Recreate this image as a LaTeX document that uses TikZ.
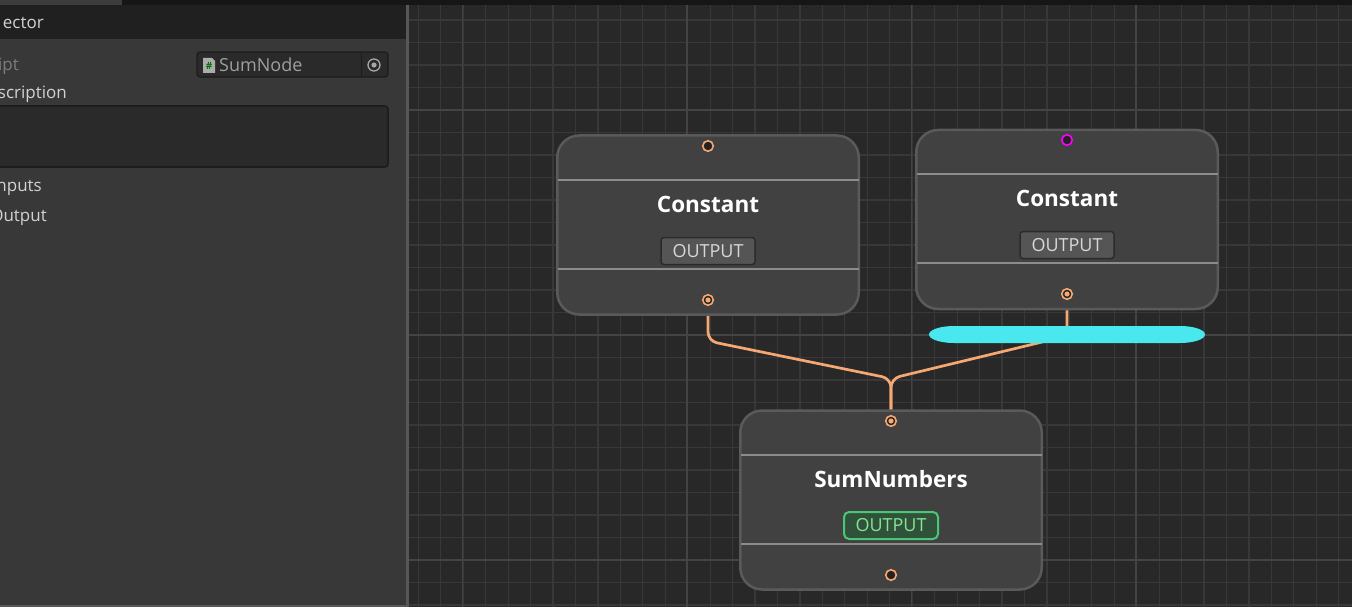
\documentclass[tikz,border=0pt]{standalone}
\usepackage{fontspec}
\setmainfont{Open Sans}
\usepackage{tikz}
\usetikzlibrary{positioning}
\definecolor{canvasbg}{HTML}{282828}
\definecolor{gridminor}{HTML}{383838}
\definecolor{gridmajor}{HTML}{444444}
\definecolor{panelbg}{HTML}{383838}
\definecolor{headbg}{HTML}{202020}
\definecolor{topbar}{HTML}{161616}
\definecolor{tabbg}{HTML}{3C3C3C}
\definecolor{panelline}{HTML}{575757}
\definecolor{paneltxt}{HTML}{D2D2D2}
\definecolor{dimtxt}{HTML}{7C7C7C}
\definecolor{fieldbg}{HTML}{2A2A2A}
\definecolor{fieldedge}{HTML}{1C1C1C}
\definecolor{nodefill}{HTML}{414141}
\definecolor{nodeedge}{HTML}{5A5A5A}
\definecolor{sepgray}{HTML}{8C8C8C}
\definecolor{btnfill}{HTML}{555555}
\definecolor{btnedge}{HTML}{2B2B2B}
\definecolor{btntxt}{HTML}{D8D8D8}
\definecolor{okfill}{HTML}{30523A}
\definecolor{okedge}{HTML}{48C874}
\definecolor{oktxt}{HTML}{86E595}
\definecolor{wireorange}{HTML}{F6A872}
\definecolor{portfill}{HTML}{222222}
\definecolor{portmagenta}{HTML}{FF00FF}
\definecolor{pillcyan}{HTML}{48E8EE}
\pgfdeclarelayer{canvas}
\pgfdeclarelayer{wires}
\pgfsetlayers{canvas,wires,main}

\begin{document}
\begin{tikzpicture}[x=1pt, y=-1pt,
  nodebox/.style={draw=nodeedge, line width=2.5pt, fill=nodefill, rounded corners=22pt,
    minimum width=301.5pt, minimum height=179pt, inner sep=0pt},
  sepline/.style={draw=sepgray, line width=1.8pt},
  title/.style={text=white, inner sep=0pt, font=\fontsize{22.5}{24}\selectfont\bfseries},
  outbtn/.style={draw=btnedge, fill=btnfill, line width=1.5pt, rounded corners=3pt,
    minimum width=94pt, minimum height=27pt, inner sep=0pt, text=btntxt,
    font=\fontsize{18}{20}\selectfont},
  okbtn/.style={outbtn, draw=okedge, fill=okfill, text=oktxt, line width=2pt, rounded corners=5pt},
  port/.style={circle, draw=wireorange, fill=portfill, line width=1.6pt, minimum size=10.5pt, inner sep=0pt},
  linked/.style={port, path picture={\fill[wireorange] (path picture bounding box.center) circle (2.6pt);}},
  link/.style={draw=wireorange, line width=2.7pt, rounded corners=9pt},
  paneltext/.style={text=paneltxt, inner sep=0pt, anchor=base east, font=\fontsize{17}{20}\selectfont}]
\useasboundingbox (0,0) rectangle (1352,607);
\clip (0,0) rectangle (1352,607);

%%%%% Canvas and grid %%%%%
\begin{pgfonlayer}{canvas}
\fill[canvasbg] (408,0) rectangle (1352,607);
\foreach \i in {0,...,41}{
\draw[gridminor, line width=1.2pt] ({418.3+\i*22.45},5)--({418.3+\i*22.45},607);
}
\foreach \i in {0,...,26}{
\draw[gridminor, line width=1.2pt] (408,{20+\i*22.5})--(1352,{20+\i*22.5});
}
\foreach \i in {0,...,3}{
\draw[gridmajor, line width=1.5pt] ({462.7+\i*224.5},5)--({462.7+\i*224.5},607);
}
\foreach \j in {110,335,560}{
\draw[gridmajor, line width=1.8pt] (408,\j)--(1352,\j);
}
\end{pgfonlayer}

%%%%% Inspector panel %%%%%
\fill[topbar] (0,0) rectangle (1352,5);
\fill[tabbg] (0,0) rectangle (122,5);
\fill[panelbg] (0,5) rectangle (406,607);
\fill[headbg] (0,5) rectangle (406,39);
\fill[panelline] (406,5) rectangle (408.5,607);
\fill[panelline] (0,605) rectangle (406,607);
\node[paneltext] (inspector) at (44,29) {ector};
\node[paneltext, text=dimtxt] (script) at (19,71) {ipt};
\draw[fill=fieldbg, draw=fieldedge, line width=1.2pt, rounded corners=3pt] (197,52) rectangle (388,77);
\draw[fieldedge, line width=1pt] (361,53)--(361,76);
\fill[gray!65] (203,58)--(212,58)--(215,61)--(215,73)--(203,73)--cycle;
\node[text=green!45!black, inner sep=0pt, font=\fontsize{10}{10}\selectfont\bfseries] (hash) at (209,66) {\#};
\node[text=gray!75, inner sep=0pt, anchor=base west, font=\fontsize{18}{20}\selectfont] (sumnode) at (219,72) {SumNode};
\draw[gray!70, line width=1.3pt] (374,65) circle (6);
\fill[gray!70] (374,65) circle (2.6);
\node[paneltext] (description) at (67,99) {scription};
\draw[fill=fieldbg, draw=fieldedge, line width=1.5pt, rounded corners=3pt] (-5,106) rectangle (388,167);
\node[paneltext] (inputs) at (42,191) {nputs};
\node[paneltext] (output) at (47,221) {Output};

%%%%% Graph nodes %%%%%
\node[nodebox] (const1) at (708,225) {};
\draw[sepline] (557.5,180)--(858.5,180);
\draw[sepline] (557.5,269)--(858.5,269);
\node[title] (const1title) at (708,204) {Constant};
\node[outbtn] (const1btn) at (708,251) {OUTPUT};
\node[port] (const1in) at (708,146) {};
\node[linked] (const1out) at (708,300) {};

\node[nodebox] (const2) at (1067,219.5) {};
\draw[sepline] (916.5,174)--(1217.5,174);
\draw[sepline] (916.5,263)--(1217.5,263);
\node[title] (const2title) at (1067,198) {Constant};
\node[outbtn] (const2btn) at (1067,245) {OUTPUT};
\node[port, draw=portmagenta] (const2in) at (1067,140) {};
\node[linked] (const2out) at (1067,294) {};

\node[nodebox] (sum) at (891,500) {};
\draw[sepline] (740.5,455)--(1041.5,455);
\draw[sepline] (740.5,544)--(1041.5,544);
\node[title] (sumtitle) at (891,479) {SumNumbers};
\node[okbtn] (sumbtn) at (891,525.5) {OUTPUT};
\node[linked] (sumin) at (891,421) {};
\node[port] (sumout) at (891,575) {};

%%%%% Wires %%%%%
\coordinate (join) at (891,378.5);
\begin{pgfonlayer}{wires}
\draw[link] (const1out) -- (708,341) -- (join) -- (sumin);
\draw[link] (const2out) -- (1067,336) -- (join) -- (sumin);
\end{pgfonlayer}
\fill[pillcyan] (954,326) -- (1180,326) arc[start angle=-90, end angle=90, x radius=25, y radius=8.5]
  -- (954,343) arc[start angle=90, end angle=270, x radius=25, y radius=8.5] -- cycle;
\end{tikzpicture}
\end{document}
